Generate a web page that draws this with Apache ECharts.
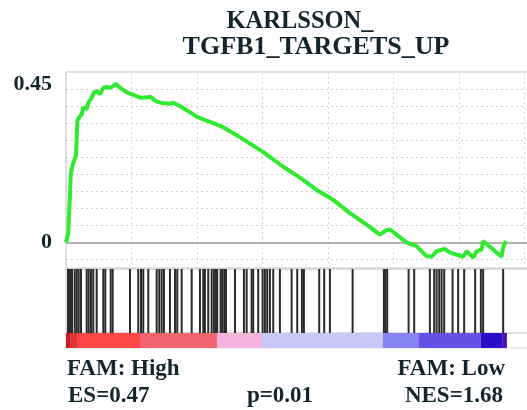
<!DOCTYPE html>
<html><head><meta charset="utf-8">
<script src="https://cdn.jsdelivr.net/npm/echarts@6/dist/echarts.min.js"></script>
<style>html,body{margin:0;padding:0;background:#fff}#c{width:527px;height:410px}</style>
</head><body><div id="c"></div>
<script>
// ---------- data ----------
const titleLines = ['KARLSSON_', 'TGFB1_TARGETS_UP'];
const yTickLabels = [0, 0.45];
const yGridValues = [-0.05, 0.05, 0.1, 0.15, 0.2, 0.25, 0.3, 0.35, 0.4, 0.45];
const rankCount = 13465;
const esRank = [0, 40, 70, 100, 120, 145, 185, 245, 305, 325, 345, 405, 480, 530, 630, 680, 785, 855, 935, 1040, 1140, 1240, 1345, 1445, 1525, 1650, 1855, 2055, 2260, 2465, 2565, 2770, 2970, 3175, 3275, 3480, 3685, 3990, 4295, 4600, 4800, 5005, 5310, 5620, 6025, 6635, 7145, 7655, 8160, 8670, 9180, 9585, 9790, 9890, 10095, 10400, 10705, 11010, 11165, 11315, 11570, 11725, 12130, 12235, 12435, 12540, 12690, 12740, 13300, 13350, 13435];
const esValue = [0, 0, 0.028, 0.10, 0.134, 0.20, 0.22, 0.24, 0.255, 0.30, 0.357, 0.367, 0.376, 0.396, 0.391, 0.41, 0.425, 0.44, 0.444, 0.435, 0.454, 0.456, 0.454, 0.459, 0.465, 0.454, 0.44, 0.433, 0.425, 0.425, 0.428, 0.413, 0.408, 0.407, 0.41, 0.40, 0.388, 0.369, 0.357, 0.346, 0.338, 0.326, 0.309, 0.29, 0.265, 0.222, 0.19, 0.154, 0.125, 0.086, 0.052, 0.023, 0.036, 0.038, 0.023, 0.0, -0.011, -0.04, -0.042, -0.026, -0.019, -0.03, -0.042, -0.026, -0.044, -0.026, -0.021, 0.004, -0.042, -0.015, 0.004];
const hitRank = [61, 122, 183, 266, 327, 388, 458, 632, 693, 763, 833, 937, 1139, 1200, 1365, 1426, 1954, 2207, 2290, 2360, 2513, 2769, 2848, 2922, 2992, 3175, 3328, 3398, 3532, 3838, 4091, 4192, 4243, 4344, 4448, 4518, 4580, 4619, 4723, 4772, 4833, 4885, 5160, 5434, 5517, 5669, 5718, 5871, 6005, 6075, 6146, 6228, 6329, 6533, 6891, 7062, 7205, 7266, 7733, 7886, 8060, 8753, 9709, 9755, 9810, 10463, 10634, 11113, 11244, 11318, 11397, 11471, 11550, 11806, 11977, 12160, 12496, 12670, 12740, 13351];
const barStart = [0, 122, 336, 2260, 4610, 5985, 9680, 10760, 12670, 13340];
const barEnd = [122, 336, 2260, 4610, 5985, 9680, 10760, 12670, 13340, 13465];
const barLevel = [0, 1, 2, 3, 4, 5, 6, 7, 8, 9];
const phenoHigh = 'FAM: High';
const phenoLow = 'FAM: Low';
const esText = 'ES=0.47';
const pText = 'p=0.01';
const nesText = 'NES=1.68';

// ---------- style ----------
const palette = ['#c41e24', '#e03434', '#ff4646', '#f4616f', '#f4b2dc', '#c8c8f8', '#8484f4', '#6452e8', '#2a0ec8', '#4a0cb4'];
const FONT = '"Liberation Serif", "Times New Roman", serif';
const TXT = '#13262e';
const L = 66, R = -20;
const XMAX = 14690;

const chart = echarts.init(document.getElementById('c'), null, {renderer: 'canvas'});

const xBase = (idx) => ({
  type: 'value', gridIndex: idx, min: 0, max: XMAX, interval: 2000,
  axisLine: {show: false}, axisTick: {show: false}, axisLabel: {show: false},
  splitLine: {show: idx === 0, lineStyle: {color: '#d6d6d6', type: [2, 3], width: 1}}
});

const gridBase = {left: L, right: R, outerBoundsMode: 'none', containLabel: false, show: true, borderWidth: 1};

const option = {
  animation: false,
  backgroundColor: '#fff',
  grid: [
    Object.assign({}, gridBase, {top: 72, height: 196, borderColor: '#c4c4c4'}),
    Object.assign({}, gridBase, {top: 269, height: 64, borderColor: '#c8c8c8'}),
    Object.assign({}, gridBase, {top: 333, height: 15, borderColor: '#dcdcdc'})
  ],
  xAxis: [xBase(0), xBase(1), xBase(2)],
  yAxis: [
    {type: 'value', gridIndex: 0, min: -0.075, max: 0.5, interval: 0.025,
     axisLine: {show: false}, axisTick: {show: false}, splitLine: {show: false},
     axisLabel: {
       margin: 14, color: TXT, fontFamily: FONT, fontWeight: 'bold', fontSize: 22,
       rich: {
         up: {fontFamily: FONT, fontWeight: 'bold', fontSize: 22, color: TXT, padding: [0, 0, 9, 0]},
         mid: {fontFamily: FONT, fontWeight: 'bold', fontSize: 22, color: TXT}
       },
       formatter: (v) => {
         for (const t of yTickLabels) {
           if (Math.abs(v - t) < 1e-9) return t === 0 ? '{mid|' + t + '}' : '{up|' + t + '}';
         }
         return '';
       }
     }},
    {type: 'value', gridIndex: 1, min: 0, max: 1, show: false},
    {type: 'value', gridIndex: 2, min: 0, max: 1, show: false}
  ],
  series: [
    {
      type: 'line', xAxisIndex: 0, yAxisIndex: 0,
      data: esRank.map((r, i) => [r, esValue[i]]),
      symbol: 'none', lineStyle: {color: '#30ea30', width: 4}, z: 5,
      markLine: {
        silent: true, symbol: 'none', label: {show: false},
        data: yGridValues.map(v => ({yAxis: v, lineStyle: {color: '#cfcfcf', type: [2, 3], width: 1}}))
          .concat([{yAxis: 0, lineStyle: {color: '#9a9a9a', type: 'solid', width: 1.5}}])
      }
    },
    {
      type: 'custom', xAxisIndex: 2, yAxisIndex: 2,
      data: barStart.map((s, i) => [s, barEnd[i], barLevel[i]]),
      encode: {x: [0, 1]},
      renderItem: (params, api) => {
        const p0 = api.coord([api.value(0), 1]);
        const p1 = api.coord([api.value(1), 0]);
        return {type: 'rect', shape: {x: p0[0], y: p0[1], width: p1[0] - p0[0], height: p1[1] - p0[1]},
                style: {fill: palette[api.value(2)]}};
      }
    },
    {
      type: 'custom', xAxisIndex: 1, yAxisIndex: 1,
      data: hitRank.map(r => [r, 1]),
      encode: {x: 0, y: 1},
      renderItem: (params, api) => {
        const p0 = api.coord([api.value(0), 0]);
        const p1 = api.coord([api.value(0), 1]);
        return {type: 'line', shape: {x1: p0[0], y1: p0[1], x2: p1[0], y2: p1[1]},
                style: {stroke: '#2b2b2b', lineWidth: 2}};
      }
    }
  ],
  graphic: [
    {type: 'text', x: 300, y: 22, style: {text: titleLines[0], font: 'bold 24.5px ' + FONT, fill: TXT, textAlign: 'center', textVerticalAlign: 'middle'}},
    {type: 'text', x: 316, y: 47, style: {text: titleLines[1], font: 'bold 26px ' + FONT, fill: TXT, textAlign: 'center', textVerticalAlign: 'middle'}},
    {type: 'text', x: 67, y: 369, style: {text: phenoHigh, font: 'bold 23px ' + FONT, fill: TXT, textAlign: 'left', textVerticalAlign: 'middle'}},
    {type: 'text', x: 505, y: 369, style: {text: phenoLow, font: 'bold 23px ' + FONT, fill: TXT, textAlign: 'right', textVerticalAlign: 'middle'}},
    {type: 'text', x: 68, y: 396, style: {text: esText, font: 'bold 23px ' + FONT, fill: TXT, textAlign: 'left', textVerticalAlign: 'middle'}},
    {type: 'text', x: 280, y: 396, style: {text: pText, font: 'bold 23px ' + FONT, fill: TXT, textAlign: 'center', textVerticalAlign: 'middle'}},
    {type: 'text', x: 503, y: 396, style: {text: nesText, font: 'bold 23px ' + FONT, fill: TXT, textAlign: 'right', textVerticalAlign: 'middle'}}
  ]
};
chart.setOption(option);
</script>
</body></html>
